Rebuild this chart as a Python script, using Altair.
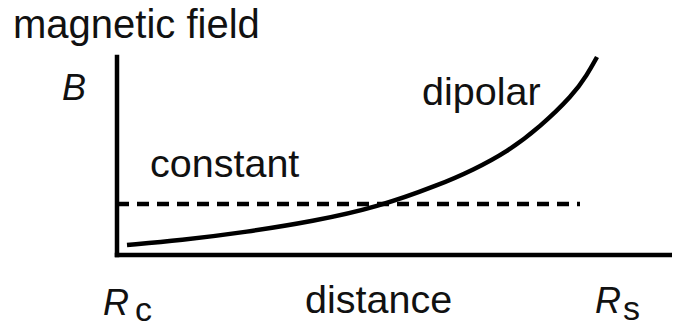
import altair as alt
import pandas as pd

# dipolar field curve (distance from R_c to R_s = 0..1, B in arbitrary units)
dist = [0.02, 0.126, 0.26, 0.392, 0.52, 0.646, 0.712, 0.78, 0.846, 0.912, 0.94, 0.96]
dipolar = [0.05, 0.073, 0.115, 0.168, 0.238, 0.352, 0.425, 0.515, 0.64, 0.80, 0.90, 0.99]

# constant field level
const_x = [0.0, 0.926]
const_b = [0.255, 0.255]

# plain labels
plain_text = ["magnetic field", "constant", "dipolar", "distance"]
plain_x = [-0.208, 0.066, 0.61, 0.376]
plain_y = [1.085, 0.39, 0.75, -0.29]

# italic symbols
ital_text = ["B", "R", "R"]
ital_x = [-0.11, -0.028, 0.956]
ital_y = [0.775, -0.30, -0.29]

# subscripts
sub_text = ["c", "s"]
sub_x = [0.036, 1.012]
sub_y = [-0.33, -0.325]

XD = [-0.218, 1.11]
YD = [-0.35, 1.235]
xs = alt.Scale(domain=XD, nice=False, zero=False)
ys = alt.Scale(domain=YD, nice=False, zero=False)
FONT = "Liberation Sans"

curve_df = pd.DataFrame({"d": dist, "b": dipolar})
const_df = pd.DataFrame({"d": const_x, "b": const_b})
axes_df = pd.DataFrame({"x": [0.0, 0.0], "x2": [0.0, XD[1]],
                        "y": [0.0, 0.0], "y2": [0.99, 0.0]})
plain_df = pd.DataFrame({"t": plain_text, "x": plain_x, "y": plain_y})
ital_df = pd.DataFrame({"t": ital_text, "x": ital_x, "y": ital_y})
sub_df = pd.DataFrame({"t": sub_text, "x": sub_x, "y": sub_y})

curve = alt.Chart(curve_df).mark_line(
    color="black", strokeWidth=4.5, interpolate="basis"
).encode(x=alt.X("d:Q", scale=xs, axis=None), y=alt.Y("b:Q", scale=ys, axis=None))

const = alt.Chart(const_df).mark_line(
    color="black", strokeWidth=4.5, strokeDash=[12, 8]
).encode(x=alt.X("d:Q", scale=xs, axis=None), y=alt.Y("b:Q", scale=ys, axis=None))

axes = alt.Chart(axes_df).mark_rule(
    color="black", strokeWidth=4.5, strokeCap="square"
).encode(
    x=alt.X("x:Q", scale=xs, axis=None), x2="x2:Q",
    y=alt.Y("y:Q", scale=ys, axis=None), y2="y2:Q",
)

def text_layer(df, size, style="normal"):
    return alt.Chart(df).mark_text(
        align="left", baseline="alphabetic", font=FONT, fontSize=size,
        fontStyle=style, color="#111111"
    ).encode(
        x=alt.X("x:Q", scale=xs, axis=None),
        y=alt.Y("y:Q", scale=ys, axis=None),
        text="t:N",
    )

title = text_layer(plain_df.iloc[:1], 40)
plain = text_layer(plain_df.iloc[1:], 39.5)
ital = text_layer(ital_df, 36, "italic")
sub = text_layer(sub_df, 34)

chart = alt.layer(axes, const, curve, title, plain, ital, sub).properties(
    width=664, height=317, autosize=alt.AutoSizeParams(type="none"), padding=0
).configure_view(stroke=None)

chart.save("out.html", embed_options={"renderer": "svg", "actions": False})
